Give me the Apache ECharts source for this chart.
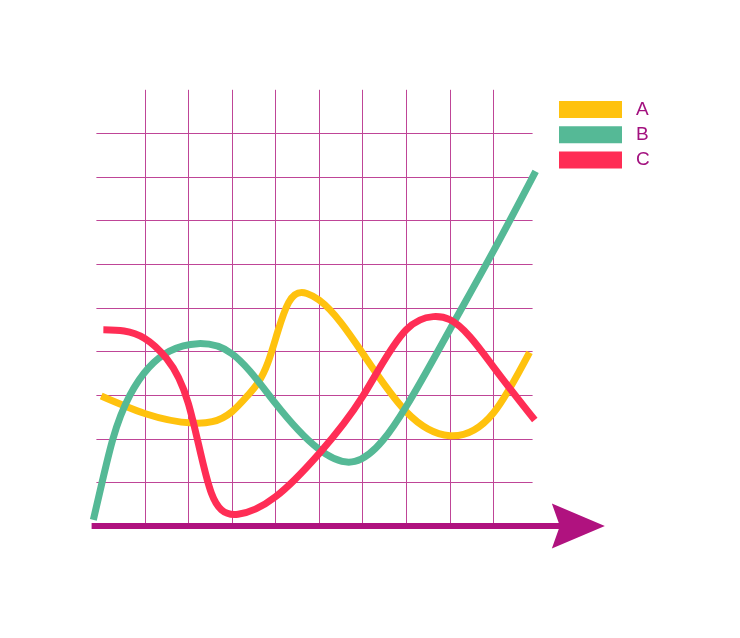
<!DOCTYPE html>
<html>
<head>
<meta charset="utf-8">
<script src="https://cdn.jsdelivr.net/npm/echarts@6/dist/echarts.min.js"></script>
<style>html,body{margin:0;padding:0;background:#fff;}#c{width:740px;height:638px;}</style>
</head>
<body>
<div id="c"></div>
<script>
// Data (x in grid-column units, y in grid-row units)
const seriesNames = ['A', 'B', 'C'];
const seriesA = [[0,2.98],[1,2.58],[2.1,2.36],[3,2.62],[3.37,3.0],[3.82,3.73],[4.05,4.45],[4.3,5.12],[4.72,5.33],[5.0,5.18],[6,3.96],[7,2.62],[8,2.07],[9,2.59],[9.83,3.98]];
const seriesB = [[-0.18,0.14],[0.02,1.0],[0.27,2.0],[0.66,3.0],[1.57,4.01],[2.22,4.18],[3,3.95],[4,2.81],[4.97,1.78],[5.82,1.48],[6.47,1.97],[7,2.74],[8,4.5],[9,6.3],[9.97,8.13]];
const seriesC = [[0.05,4.50],[1,4.30],[1.5,3.84],[2,2.81],[2.30,1.59],[2.53,0.75],[2.76,0.37],[3.14,0.27],[4,0.67],[5,1.66],[6,2.97],[7,4.50],[7.62,4.80],[8,4.73],[9,3.65],[9.95,2.43]];
const gridColumns = [1,2,3,4,5,6,7,8,9];
const gridRows = [1,2,3,4,5,6,7,8,9];
const rowStart = -0.11, rowEnd = 9.9;
const axisStart = -0.22, axisEnd = 10.95;

const colors = ['#ffc20e', '#55b996', '#ff2d55'];
const gridColor = '#bf4597';
const axisColor = '#b0127f';

const gridLines = [];
gridColumns.forEach(function (x) { gridLines.push({ xAxis: x }); });
gridRows.forEach(function (y) { gridLines.push([{ coord: [rowStart, y] }, { coord: [rowEnd, y] }]); });

// natural cubic spline path through screen points (x increasing), drawn as bezier segments
function smoothPath(p) {
  const n = p.length;
  const h = [], M = new Array(n).fill(0);
  for (let i = 0; i < n - 1; i++) h.push(p[i+1][0] - p[i][0]);
  if (n > 2) {
    const a = [], b = [], c = [], r = [];
    for (let i = 1; i < n - 1; i++) {
      a.push(h[i-1]); b.push(2 * (h[i-1] + h[i])); c.push(h[i]);
      r.push(6 * ((p[i+1][1] - p[i][1]) / h[i] - (p[i][1] - p[i-1][1]) / h[i-1]));
    }
    const k = b.length;
    for (let i = 1; i < k; i++) {
      const w = a[i] / b[i-1];
      b[i] -= w * c[i-1]; r[i] -= w * r[i-1];
    }
    const sol = new Array(k);
    sol[k-1] = r[k-1] / b[k-1];
    for (let i = k - 2; i >= 0; i--) sol[i] = (r[i] - c[i] * sol[i+1]) / b[i];
    for (let i = 0; i < k; i++) M[i+1] = sol[i];
  }
  const m = [];
  for (let i = 0; i < n - 1; i++) m.push((p[i+1][1] - p[i][1]) / h[i] - h[i] * (2 * M[i] + M[i+1]) / 6);
  const hl = h[n-2];
  m.push((p[n-1][1] - p[n-2][1]) / hl + hl * (M[n-2] + 2 * M[n-1]) / 6);
  let d = 'M' + p[0][0] + ',' + p[0][1];
  for (let i = 0; i < n - 1; i++) {
    const hh = h[i];
    d += ' C' + (p[i][0] + hh/3) + ',' + (p[i][1] + m[i]*hh/3) + ' ' +
         (p[i+1][0] - hh/3) + ',' + (p[i+1][1] - m[i+1]*hh/3) + ' ' + p[i+1][0] + ',' + p[i+1][1];
  }
  return d;
}

function curveSeries(name, data, color) {
  return {
    name: name, type: 'custom', data: data, z: 3, silent: true,
    encode: { x: 0, y: 1 },
    itemStyle: { color: color },
    renderItem: function (params, api) {
      if (params.dataIndex !== 0) return null;
      const pts = data.map(function (d) { return api.coord(d); });
      return {
        type: 'path',
        shape: { pathData: smoothPath(pts) },
        style: { fill: null, stroke: color, lineWidth: 7 }
      };
    }
  };
}

const chart = echarts.init(document.getElementById('c'), null, { renderer: 'canvas' });
chart.setOption({
  animation: false,
  backgroundColor: '#fff',
  grid: { left: 90.3, top: 89.8, width: 533.8, height: 436.2 },
  xAxis: { type: 'value', min: -0.25, max: 12, show: false },
  yAxis: { type: 'value', min: 0, max: 10, show: false },
  legend: {
    orient: 'vertical', left: 559, top: 98, padding: 0,
    itemWidth: 63, itemHeight: 17, itemGap: 2.3,
    icon: 'rect',
    selectedMode: false,
    textStyle: { color: '#a3117f', fontSize: 19, fontFamily: 'Liberation Sans, Arial, sans-serif', lineHeight: 17, padding: [6,0,0,9] },
    data: seriesNames
  },
  series: [
    {
      name: 'grid', type: 'line', data: [], z: 1, silent: true,
      markLine: {
        silent: true, z: 1, symbol: 'none', label: { show: false }, animation: false,
        lineStyle: { color: gridColor, width: 1, type: 'solid' },
        emphasis: { disabled: true },
        data: gridLines
      }
    },
    {
      name: 'axis', type: 'line', data: [], z: 2, silent: true,
      markLine: {
        silent: true, z: 2, label: { show: false }, animation: false,
        emphasis: { disabled: true },
        lineStyle: { color: axisColor, width: 6, type: 'solid' },
        data: [[
          { coord: [axisStart, 0], symbol: 'none' },
          { coord: [axisEnd, 0], symbol: 'path://M22.5,0 L45,53 L22.5,45 L0,53 Z', symbolSize: [45, 53] }
        ]]
      }
    },
    curveSeries(seriesNames[0], seriesA, colors[0]),
    curveSeries(seriesNames[1], seriesB, colors[1]),
    curveSeries(seriesNames[2], seriesC, colors[2])
  ]
});
</script>
</body>
</html>
